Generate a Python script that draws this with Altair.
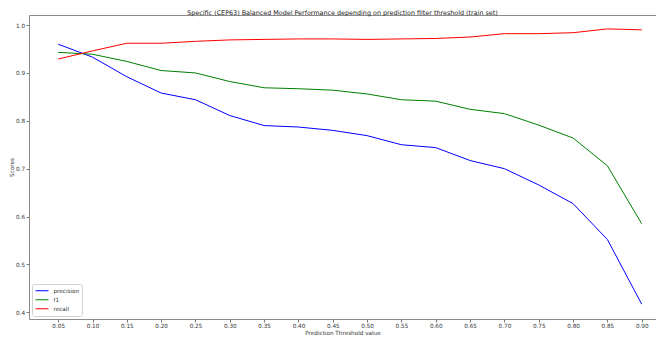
import altair as alt
import pandas as pd

thresholds = [0.05, 0.10, 0.15, 0.20, 0.25, 0.30, 0.35, 0.40, 0.45,
              0.50, 0.55, 0.60, 0.65, 0.70, 0.75, 0.80, 0.85, 0.90]
precision = [0.960, 0.933, 0.892, 0.858, 0.844, 0.811, 0.790, 0.787, 0.780,
             0.769, 0.750, 0.744, 0.717, 0.700, 0.666, 0.627, 0.552, 0.417]
f1 = [0.943, 0.939, 0.924, 0.905, 0.900, 0.882, 0.869, 0.867, 0.864,
      0.856, 0.844, 0.841, 0.824, 0.815, 0.791, 0.764, 0.706, 0.585]
recall = [0.929, 0.946, 0.962, 0.962, 0.966, 0.969, 0.970, 0.971, 0.971,
          0.970, 0.971, 0.972, 0.975, 0.982, 0.982, 0.984, 0.992, 0.990]

series_names = ["precision", "f1", "recall"]
series_colors = ["#0000ff", "#008000", "#ff0000"]
x_ticks = thresholds
y_ticks = [0.4, 0.5, 0.6, 0.7, 0.8, 0.9, 1.0]

rows = []
for name, vals in zip(series_names, [precision, f1, recall]):
    for t, v in zip(thresholds, vals):
        rows.append({"threshold": t, "score": v, "metric": name})
df = pd.DataFrame(rows)

FONT = "DejaVu Sans"
W, H = 627, 304

x_scale = alt.Scale(domain=[0.0075, 0.9208], nice=False, zero=False)
y_scale = alt.Scale(domain=[0.386, 1.021], nice=False, zero=False)

lines = alt.Chart(df).mark_line(strokeWidth=1.0).encode(
    x=alt.X("threshold:Q", scale=x_scale,
            axis=alt.Axis(values=x_ticks, format=".2f", title="Prediction Threshold value",
                          grid=False, tickSize=3, labelPadding=0.5,
                          titleY=13.5, titleBaseline="middle", titlePadding=0)),
    y=alt.Y("score:Q", scale=y_scale,
            axis=alt.Axis(values=y_ticks, format=".1f", title="Scores",
                          grid=False, tickSize=3, labelPadding=1.5,
                          titleX=-18, titleY=H / 2, titleAngle=-90,
                          titleBaseline="middle", titleAlign="center")),
    color=alt.Color("metric:N",
                    scale=alt.Scale(domain=series_names, range=series_colors),
                    sort=series_names,
                    legend=alt.Legend(title=None, orient="bottom-left", offset=3,
                                      symbolType="stroke", symbolSize=169,
                                      symbolStrokeWidth=1.2, clipHeight=8.5,
                                      rowPadding=0, labelOffset=4,
                                      fillColor="white", strokeColor="#d0d0d0",
                                      cornerRadius=2, padding=2.5)),
)

top_border = alt.Chart(df).mark_line(opacity=0).encode(
    x=alt.X("threshold:Q", scale=x_scale,
            axis=alt.Axis(orient="top", labels=False, ticks=False, title=None,
                          grid=False, domain=True)),
    y=alt.Y("score:Q", scale=y_scale,
            axis=alt.Axis(orient="right", labels=False, ticks=False, title=None,
                          grid=False, domain=False)),
    detail="metric:N",
)

chart = alt.layer(lines, top_border).resolve_axis(
    x="independent", y="independent"
).properties(
    width=W,
    height=H,
    title=alt.TitleParams(
        "Specific (CEP63) Balanced Model Performance depending on prediction filter threshold (train set)",
        fontSize=6.4, font=FONT, fontWeight="normal", color="#222",
        anchor="middle", offset=0.5, baseline="bottom", dy=7.5),
    autosize=alt.AutoSizeParams(type="none"),
    padding={"left": 21, "top": 7, "right": 0, "bottom": 19},
).configure_view(
    stroke=None
).configure_axis(
    labelFont=FONT, titleFont=FONT, labelFontSize=5.7, titleFontSize=5.7,
    labelColor="#333", titleColor="#333", titleFontWeight="normal",
    domainColor="#8a8a8a", domainWidth=1,
    tickColor="#555", tickWidth=0.8
).configure_legend(
    labelFont=FONT, labelFontSize=5.7, labelColor="#333"
)

chart.save("out.html", embed_options={"renderer": "svg", "actions": False})
